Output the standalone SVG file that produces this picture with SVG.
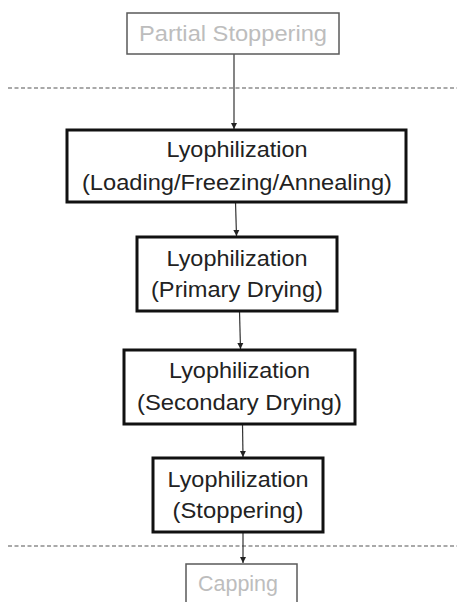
<svg xmlns="http://www.w3.org/2000/svg" width="457" height="602" viewBox="0 0 457 602">
  <defs>
    <marker id="arrow" viewBox="0 0 10 10" refX="10" refY="5" markerWidth="6" markerHeight="7" markerUnits="userSpaceOnUse" orient="auto">
      <path d="M0,0 L10,5 L0,10 Z" fill="#222"/>
    </marker>
    <style>
      .step rect { fill: #fff; stroke: #111; stroke-width: 3; }
      .outside rect { fill: #fff; stroke: #5a5a5a; stroke-width: 1.5; }
      text { font-family: "Liberation Sans", Arial, sans-serif; font-size: 22px; text-anchor: middle; }
      .step text { fill: #222; }
      .outside text { fill: #bdbdbd; }
      .edge { stroke: #333; stroke-width: 1.2; fill: none; marker-end: url(#arrow); }
      .divider { stroke: #555; stroke-width: 1.2; stroke-dasharray: 4 2.5; }
    </style>
  </defs>

  <!-- phase boundaries -->
  <line class="divider" x1="8" y1="88" x2="457" y2="88"/>
  <line class="divider" x1="8" y1="546" x2="457" y2="546"/>

  <g id="connectors">
    <line class="edge" x1="234" y1="54" x2="234" y2="129"/>
    <line class="edge" x1="235.5" y1="202" x2="236.5" y2="236"/>
    <line class="edge" x1="239.5" y1="311" x2="240.5" y2="349"/>
    <line class="edge" x1="242.5" y1="424" x2="243" y2="457"/>
    <line class="edge" x1="243" y1="532" x2="243" y2="563"/>
  </g>

  <g id="partial-stoppering" class="outside">
    <rect x="127" y="13" width="212" height="41"/>
    <text x="233" y="41" textLength="188" lengthAdjust="spacingAndGlyphs">Partial Stoppering</text>
  </g>

  <g id="loading-freezing" class="step">
    <rect x="67" y="130" width="339" height="72"/>
    <text x="237" y="157" textLength="141" lengthAdjust="spacingAndGlyphs">Lyophilization</text>
    <text x="237" y="190" textLength="310" lengthAdjust="spacingAndGlyphs">(Loading/Freezing/Annealing)</text>
  </g>

  <g id="primary-drying" class="step">
    <rect x="137" y="237" width="200" height="74"/>
    <text x="237" y="266" textLength="141" lengthAdjust="spacingAndGlyphs">Lyophilization</text>
    <text x="237" y="297" textLength="172" lengthAdjust="spacingAndGlyphs">(Primary Drying)</text>
  </g>

  <g id="secondary-drying" class="step">
    <rect x="124" y="350" width="231" height="74"/>
    <text x="239.5" y="378" textLength="141" lengthAdjust="spacingAndGlyphs">Lyophilization</text>
    <text x="239.5" y="410" textLength="205" lengthAdjust="spacingAndGlyphs">(Secondary Drying)</text>
  </g>

  <g id="stoppering" class="step">
    <rect x="153" y="458" width="170" height="74"/>
    <text x="238" y="487" textLength="141" lengthAdjust="spacingAndGlyphs">Lyophilization</text>
    <text x="238" y="518" textLength="131" lengthAdjust="spacingAndGlyphs">(Stoppering)</text>
  </g>

  <g id="capping" class="outside">
    <rect x="186" y="564" width="111" height="50"/>
    <text x="238" y="591" textLength="80" lengthAdjust="spacingAndGlyphs">Capping</text>
  </g>
</svg>
